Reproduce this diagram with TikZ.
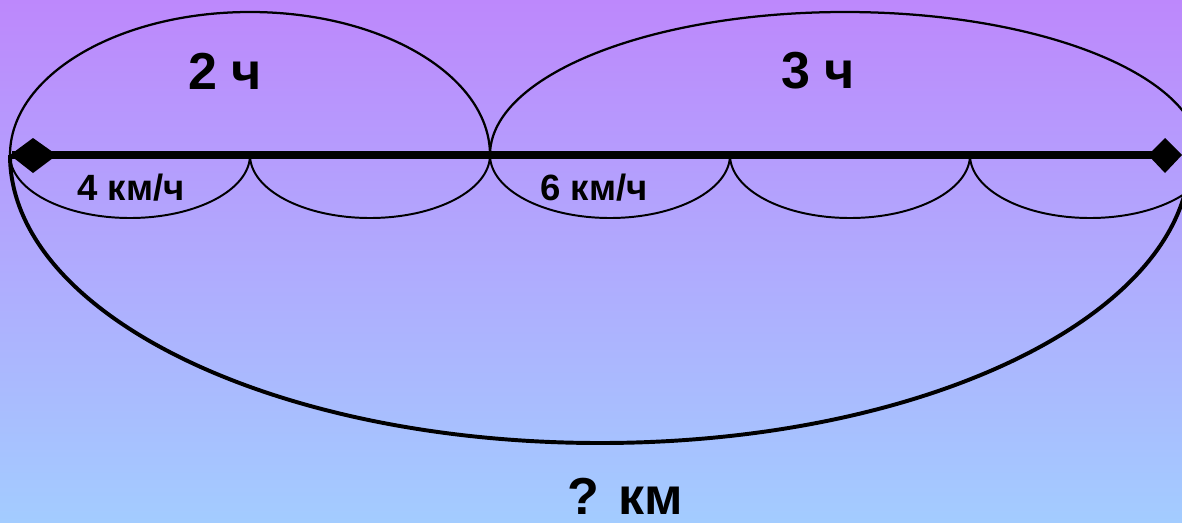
\documentclass[tikz,border=0pt]{standalone}
\usepackage{fontspec}
\setmainfont{Liberation Sans}
\usetikzlibrary{positioning}
\definecolor{skytop}{HTML}{BD88FC}
\definecolor{skybottom}{HTML}{A3CCFF}
\definecolor{inkline}{HTML}{000000}
\newcommand{\hoparc}[1]{%
  \draw[inkline, line width=1.4pt] (#1,0)
    arc[start angle=180, end angle=360, x radius=120, y radius=63];}

\begin{document}
\begin{tikzpicture}[x=0.025cm, y=0.025cm, font=\bfseries,
    label/.style={text=inkline, inner sep=0pt}]
  \useasboundingbox (0,-367) rectangle (1182,155);
  \clip (0,-367) rectangle (1182,155);
  \shade[top color=skytop, bottom color=skybottom] (0,-367) rectangle (1182,155);
  % upper arcs (hours)
  \draw[inkline, line width=1.6pt] (10,0)
    arc[start angle=180, end angle=0, x radius=240, y radius=143];
  \draw[inkline, line width=1.6pt] (490,0)
    arc[start angle=180, end angle=0, x radius=355, y radius=143];
  % lower arcs (speed per hour)
  \hoparc{10}
  \hoparc{250}
  \hoparc{490}
  \hoparc{730}
  \hoparc{970}
  % whole distance
  \draw[inkline, line width=2.8pt] (10,0)
    arc[start angle=180, end angle=360, x radius=590, y radius=288];
  % road
  \draw[inkline, line width=5pt] (12,0) -- (1170,0);
  \fill[inkline] (10,0) -- (33,17) -- (57,0) -- (33,-18) -- cycle;
  \fill[inkline] (1148,0) -- (1165,17) -- (1182,0) -- (1165,-18) -- cycle;
  \node[label, font=\fontsize{37}{40}\bfseries\selectfont] (hours2) at (225,84) {2 ч};
  \node[label, font=\fontsize{37}{40}\bfseries\selectfont] (hours3) at (818,84) {3 ч};
  \node[label, font=\fontsize{26}{30}\bfseries\selectfont] (speed4) at (131,-33) {4 км/ч};
  \node[label, font=\fontsize{26}{30}\bfseries\selectfont] (speed6) at (594,-33) {6 км/ч};
  \node[label, font=\fontsize{37}{40}\bfseries\selectfont] (dist) at (625,-341) {? км};
\end{tikzpicture}
\end{document}
